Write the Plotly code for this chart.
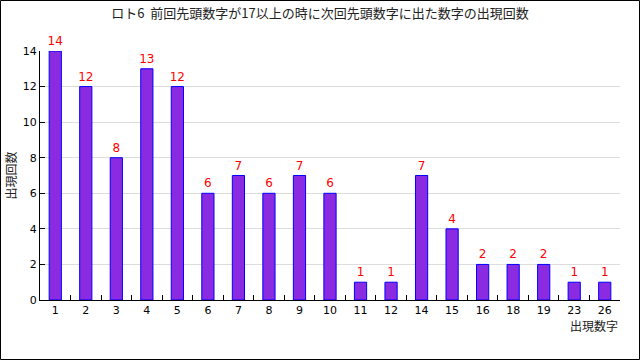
import plotly.graph_objects as go

categories = ["1","2","3","4","5","6","7","8","9","10","11","12","14","15","16","18","19","23","26"]
counts = [14,12,8,13,12,6,7,6,7,6,1,1,7,4,2,2,2,1,1]
title = "ロト6  前回先頭数字が17以上の時に次回先頭数字に出た数字の出現回数"
x_title = "出現数字"
y_title = "出現回数"
y_ticks = [0,2,4,6,8,10,12,14]

W, H = 640, 360
ml, mr, mt, mb = 40, 20, 51, 60
pw, ph = W - ml - mr, H - mt - mb

fig = go.Figure()
fig.add_trace(go.Bar(
    x=categories, y=counts, width=0.4,
    marker=dict(color="#8a2be2", line=dict(color="#0000ff", width=1)),
    text=[str(v) for v in counts], textposition="outside", constraintext="none",
    textfont=dict(color="#ff0000", size=12, family="DejaVu Sans"),
    cliponaxis=False,
))
font = "DejaVu Sans"
fig.update_layout(
    width=W, height=H, margin=dict(l=ml, r=mr, t=mt, b=mb),
    paper_bgcolor="white", plot_bgcolor="white", showlegend=False,
    font=dict(family=font, size=11, color="#000"),
    title=dict(text=title, x=0.5, xanchor="center", y=1 - 13/H, yanchor="middle",
               font=dict(size=13, family="Noto Sans CJK JP", color="#222")),
    xaxis=dict(type="category", showline=True, linecolor="#000", linewidth=1,
               ticks="inside", tickson="boundaries", ticklen=5, tickcolor="#000",
               showgrid=False, tickfont=dict(size=11, family=font)),
    yaxis=dict(range=[0, 14], tickvals=y_ticks, showline=True, linecolor="#000", linewidth=1,
               ticks="inside", ticklen=5, tickcolor="#000",
               showgrid=True, gridcolor="#dddddd", zeroline=False,
               tickfont=dict(size=11, family=font)),
    bargap=0.6,
)
fig.add_annotation(text=y_title, xref="paper", yref="paper", x=-30/pw, y=0.5,
                   textangle=-90, showarrow=False, xanchor="center", yanchor="middle",
                   font=dict(size=12, family="Noto Sans CJK JP", color="#222"))
fig.add_annotation(text=x_title, xref="paper", yref="paper", x=1 + 0/pw, y=-25/ph,
                   showarrow=False, xanchor="right", yanchor="middle",
                   font=dict(size=12, family="Noto Sans CJK JP", color="#222"))
fig.add_shape(type="rect", xref="paper", yref="paper",
              x0=(-ml + 0.5)/pw, x1=1 + (mr - 0.5)/pw,
              y0=(-mb + 0.5)/ph, y1=1 + (mt - 0.5)/ph,
              line=dict(color="#000", width=1), layer="above")
fig.write_html("out.html", config={"displayModeBar": False},
               post_script="document.body.style.margin='0px';")
